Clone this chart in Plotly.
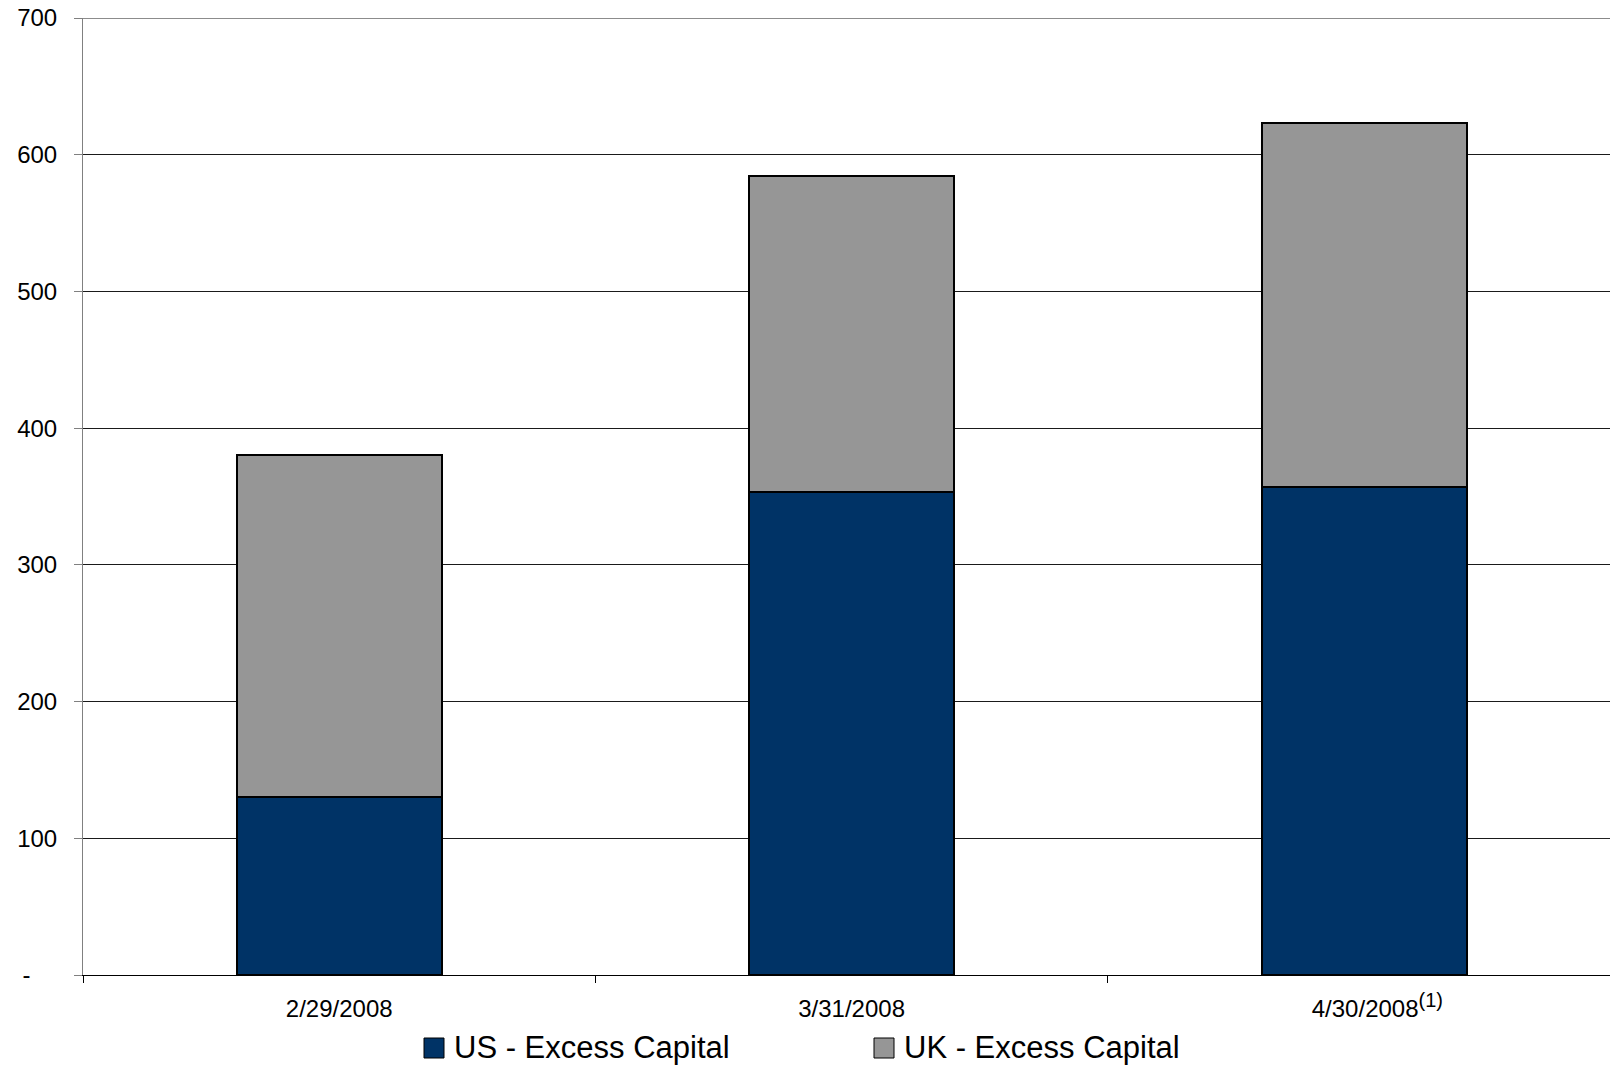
import plotly.graph_objects as go

# Month-end excess capital, stacked by region
dates = ["2/29/2008", "3/31/2008", "4/30/2008"]
date_labels = ["2/29/2008", "3/31/2008",
               "\u00a0\u00a0\u00a0\u00a04/30/2008<sup><span style='font-size:20px'>(1)</span></sup>"]
us_excess = [130.5, 353.5, 357.0]
uk_excess = [250.0, 231.0, 266.0]
series_names = ["US - Excess Capital", "UK - Excess Capital"]

y_ticks = [0, 100, 200, 300, 400, 500, 600, 700]
y_ticktext = ["-\u00a0\u00a0\u00a0\u00a0", "100", "200", "300", "400", "500", "600", "700"]

US_COLOR = "#003366"
UK_COLOR = "#969696"
FONT = "Liberation Sans, Arial, sans-serif"

W, H = 1610, 1066
ML, MR, MT, MB = 83, 0, 18, 91

fig = go.Figure()
fig.add_trace(go.Bar(x=dates, y=us_excess, name=series_names[0],
                     marker=dict(color=US_COLOR, line=dict(color="#000000", width=2)),
                     showlegend=False))
fig.add_trace(go.Bar(x=dates, y=uk_excess, name=series_names[1],
                     marker=dict(color=UK_COLOR, line=dict(color="#000000", width=2)),
                     showlegend=False))

# Pixel -> paper helpers for the hand-drawn legend below the axis
pw, ph = W - ML - MR, H - MT - MB
def px_x(p):
    return (p - ML) / pw
def px_y(p):
    return (H - MB - p) / ph

legend_items = [
    (series_names[0], US_COLOR, 424, 444, 452),
    (series_names[1], UK_COLOR, 874, 894, 902),
]
shapes, annotations = [], []
for name, color, sx0, sx1, tx in legend_items:
    shapes.append(dict(type="rect", xref="paper", yref="paper",
                       x0=px_x(sx0), x1=px_x(sx1), y0=px_y(1058), y1=px_y(1038),
                       fillcolor=color, line=dict(color="#000000", width=1)))
    annotations.append(dict(xref="paper", yref="paper", x=px_x(tx), y=px_y(1047),
                            xanchor="left", yanchor="middle", text=name, showarrow=False,
                            font=dict(family=FONT, size=31, color="#000000")))

# Top gridline at 700 spans the full plot width
shapes.append(dict(type="line", xref="paper", yref="y", x0=0, x1=1, y0=700, y1=700,
                   line=dict(color="#1a1a1a", width=1), layer="below"))

fig.update_layout(
    width=W, height=H,
    margin=dict(l=ML, r=MR, t=MT, b=MB, pad=0),
    paper_bgcolor="#ffffff", plot_bgcolor="#ffffff",
    barmode="stack", bargap=0.6,
    font=dict(family=FONT, size=24, color="#000000"),
    shapes=shapes, annotations=annotations,
    xaxis=dict(type="category", range=[-0.5, 2.48], tickmode="array",
               tickvals=dates, ticktext=date_labels, tickson="boundaries",
               ticks="outside", ticklen=7, tickcolor="#000000",
               showline=True, linecolor="#000000", linewidth=1,
               showgrid=False, ticklabelstandoff=12,
               tickfont=dict(family=FONT, size=24, color="#000000")),
    yaxis=dict(range=[0, 700], tickmode="array", tickvals=y_ticks, ticktext=y_ticktext,
               ticks="outside", ticklen=8, tickcolor="#808080",
               showline=True, linecolor="#808080", linewidth=1,
               showgrid=True, gridcolor="#1a1a1a", gridwidth=1, zeroline=False,
               ticklabelstandoff=12,
               tickfont=dict(family=FONT, size=24, color="#000000")),
)

fig.write_html("out.html")
